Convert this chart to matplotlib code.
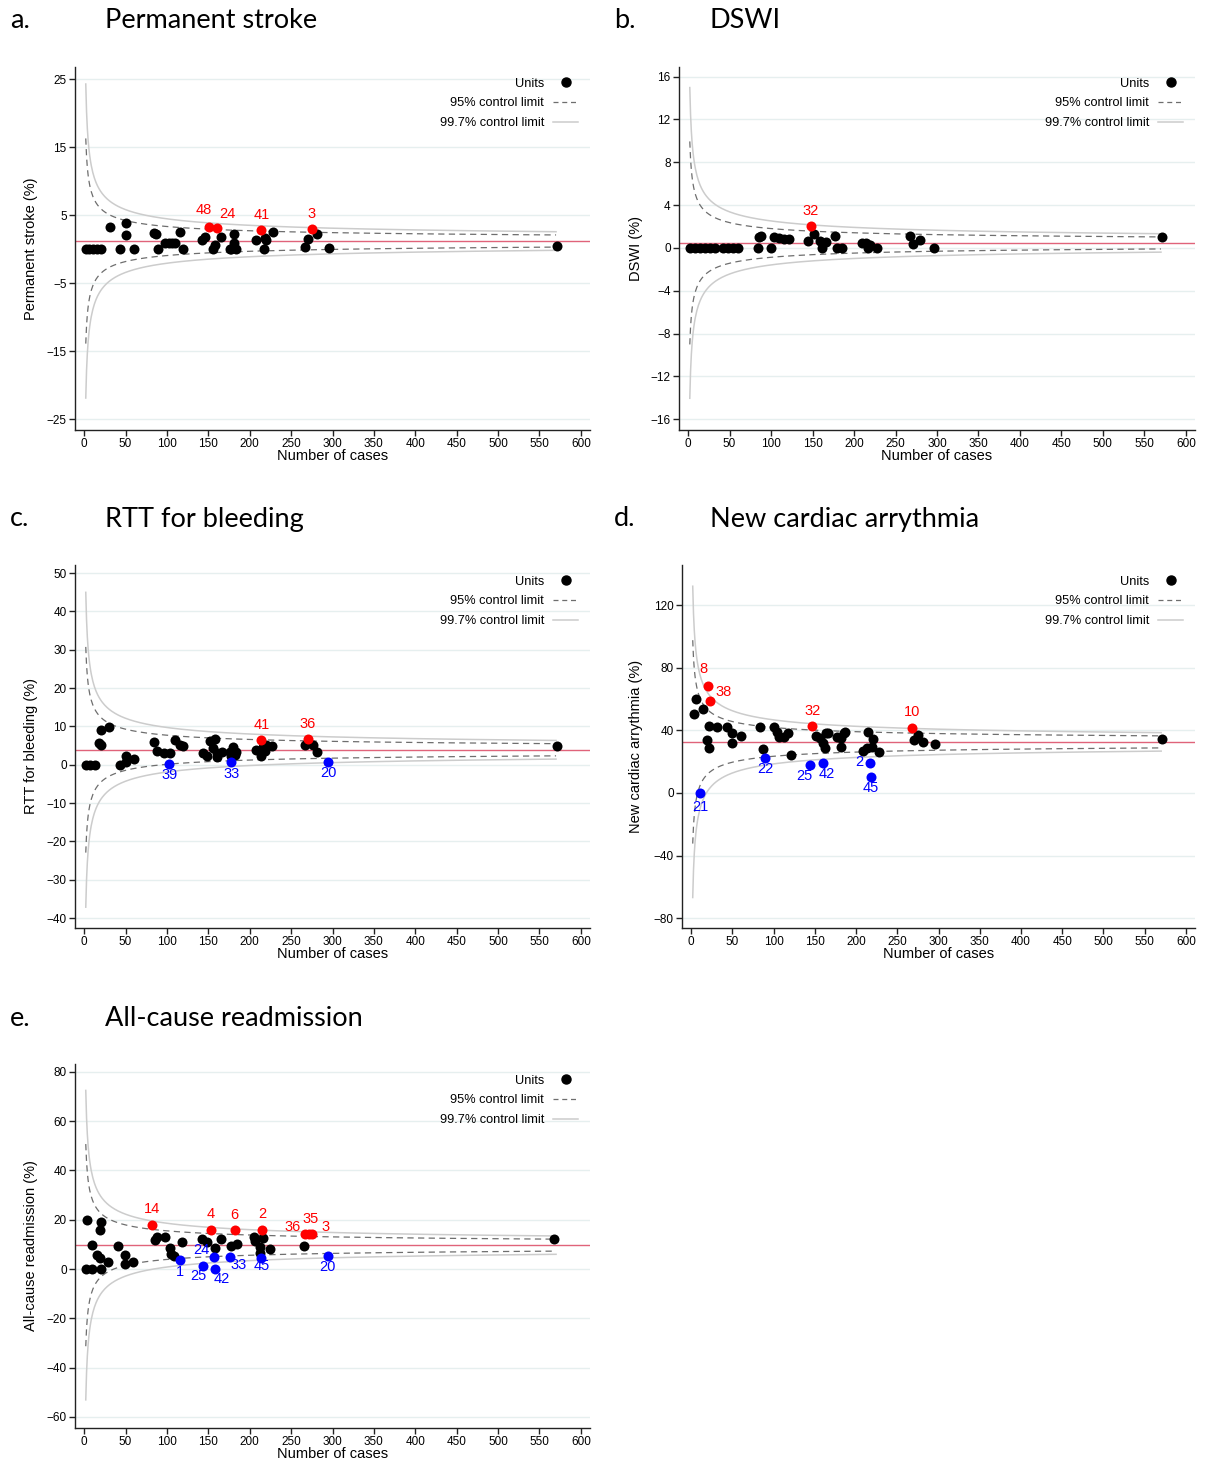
import matplotlib
matplotlib.use("Agg")
import matplotlib.pyplot as plt
from matplotlib.lines import Line2D
import numpy as np

plt.rcParams['font.family'] = ['Liberation Sans', 'DejaVu Sans']

# ---- data (n = number of cases, rate in %) ----
# a. Permanent stroke
a_target = 1.2
a_n = [2, 6, 11, 16, 21, 31, 50, 50, 43, 60, 84, 87, 89, 98, 102, 106, 110, 116, 120,
       142, 146, 165, 158, 156, 181, 181, 178, 184, 176, 208, 218, 220, 217, 228,
       281, 271, 267, 296, 571]
a_rate = [0, 0, 0, 0, 0, 3.2, 3.9, 2.1, 0, 0, 2.4, 2.3, 0, 0.9, 0.9, 0.9, 0.9, 2.5, 0,
          1.3, 1.8, 1.8, 0.6, 0, 2.2, 0.9, 0.1, 0, 0, 1.3, 1.6, 1.3, 0, 2.5,
          2.2, 1.5, 0.3, 0.2, 0.4]
a_hi_n = [151, 160, 214, 275]
a_hi_rate = [3.3, 3.1, 2.8, 2.9]
a_hi_lab = ['48', '24', '41', '3']

# b. DSWI
b_target = 0.47
b_n = [2, 8, 14, 20, 26, 32, 42, 48, 54, 60, 84, 100, 88, 86, 103, 109, 115, 121,
       144, 152, 159, 166, 161, 177, 179, 185, 209, 215, 219, 217, 228, 267, 271,
       280, 296, 571]
b_rate = [0, 0, 0, 0, 0, 0, 0, 0, 0, 0, 0, 0, 1.15, 1.0, 1.0, 0.9, 0.85, 0.8,
          0.65, 1.3, 0.65, 0.6, 0, 1.15, 0, 0, 0.5, 0.5, 0.3, 0, 0, 1.1, 0.35,
          0.7, 0, 1.0]
b_hi_n = [148]
b_hi_rate = [2.06]
b_hi_lab = ['32']

# c. RTT for bleeding
c_target = 3.9
c_n = [2, 7, 13, 20, 30, 18, 21, 43, 50, 60, 50, 84, 88, 96, 104, 110, 116, 120,
       144, 148, 152, 158, 156, 160, 166, 161, 176, 180, 184, 182, 178, 208, 216,
       220, 227, 214, 218, 267, 276, 281, 571]
c_rate = [0, 0, 0, 9.0, 9.9, 5.7, 5.1, 0, 2.2, 1.5, 0.6, 5.9, 3.7, 3.1, 3.1, 6.4,
          5.2, 4.8, 3.1, 2.4, 6.1, 6.8, 4.4, 3.1, 3.2, 1.9, 3.2, 4.6, 3.2, 2.6,
          2.2, 3.9, 4.6, 5.2, 5.0, 2.2, 3.5, 5.2, 5.2, 3.2, 5.0]
c_hi_n = [214, 270, 103, 178, 295]
c_hi_rate = [6.5, 6.7, 0.2, 0.6, 0.7]
c_hi_lab = ['41', '36', '39', '33', '20']

# d. New cardiac arrythmia
d_target = 32.6
d_n = [3, 6, 14, 22, 32, 19, 22, 44, 50, 61, 50, 84, 100, 104, 107, 113, 117, 87,
       121, 151, 156, 160, 162, 164, 166, 177, 182, 185, 187, 182, 215, 220, 219,
       213, 208, 228, 270, 275, 281, 296, 571]
d_rate = [50.3, 59.9, 53.7, 42.8, 42, 33.9, 28.5, 42, 38.1, 36.4, 32.1, 42, 42,
          39.2, 36, 36, 38.5, 27.9, 24.1, 36.4, 35, 31.8, 28.6, 38.1, 38.5, 36,
          35, 38.5, 39.2, 29.2, 39.2, 34.3, 29.6, 28.6, 26.8, 26.4, 33.9, 37.1,
          32.8, 31.1, 34.5]
d_hi_n = [20, 23, 147, 268, 11, 90, 144, 160, 217, 218]
d_hi_rate = [68.6, 59, 42.8, 41.7, 0, 22.6, 17.9, 19, 19, 10]
d_hi_lab = ['8', '38', '32', '10', '21', '22', '25', '42', '2', '45']

# e. All-cause readmission
e_target = 9.7
e_n = [4, 20, 19, 10, 16, 19, 29, 2, 10, 20, 41, 49, 49, 59, 88, 86, 98, 104, 105,
       109, 118, 142, 148, 158, 165, 178, 185, 205, 206, 216, 213, 213, 224, 266,
       568]
e_rate = [19.8, 18.9, 15.8, 9.7, 5.9, 4.6, 3.0, 0, 0, 0, 9.3, 5.7, 1.9, 3.0, 13.1,
          11.7, 13.1, 8.6, 6.3, 5.4, 10.8, 12.0, 11.0, 8.4, 12.0, 9.4, 10.1, 12.8,
          11.3, 12.4, 9.0, 6.7, 8.0, 9.4, 12.0]
e_hi_n = [82, 153, 182, 215, 267, 272, 275, 116, 143, 157, 158, 176, 214, 294]
e_hi_rate = [18.0, 16.0, 15.8, 16.0, 14.1, 14.1, 14.1, 3.5, 1.3, 4.8, 0, 5.0, 4.6, 5.3]
e_hi_lab = ['14', '4', '6', '2', '36', '35', '3', '1', '25', '24', '42', '33', '45', '20']

# label nudges (points) where the default above/below placement differs
label_offsets = {
    ('a', '48'): (-4, 12), ('a', '24'): (8, 10),
    ('d', '8'): (-3, 12), ('d', '38'): (10, 6), ('d', '21'): (0, -10),
    ('d', '25'): (-4, -8), ('d', '42'): (3, -8), ('d', '2'): (-8, 1),
    ('e', '36'): (-9, 5), ('e', '35'): (1, 11), ('e', '3'): (10, 5),
    ('e', '24'): (-9, 5), ('e', '25'): (-3, -7), ('e', '42'): (5, -7),
    ('e', '33'): (6, -6), ('e', '45'): (0, -6),
}

W, H = 1206, 1465
fig = plt.figure(figsize=(W / 100, H / 100), dpi=100)


def add_axes(left, right, top, bottom):
    return fig.add_axes([left / W, 1 - bottom / H, (right - left) / W, (bottom - top) / H])


def draw_panel(key, ax, n, rate, hi_n, hi_rate, hi_lab, target, ylim, yticks, ylabel, ylab_x):
    nn = np.linspace(2, 570, 600)
    sd = np.sqrt(target / 100 * (1 - target / 100) / nn) * 100
    ax.axhline(target, color='#e0637a', lw=1.0, zorder=2)
    for z, style, col, lw in [(3.0, '-', '#cccccc', 1.1), (1.96, (0, (5, 3.5)), '#6e6e6e', 0.9)]:
        ax.plot(nn, target + z * sd, ls=style, color=col, lw=lw, zorder=3)
        ax.plot(nn, target - z * sd, ls=style, color=col, lw=lw, zorder=3)

    ax.plot(n, rate, 'o', color='black', ms=7.2, mec='none', zorder=4)
    for x, y, lab in zip(hi_n, hi_rate, hi_lab):
        col = '#ff0000' if y > target else '#0000ff'
        ax.plot(x, y, 'o', color=col, ms=7.2, mec='none', zorder=5)
        dx, dy = label_offsets.get((key, lab), (0, 11) if y > target else (0, -8))
        ax.annotate(lab, (x, y), xytext=(dx, dy), textcoords='offset points',
                    ha='center', va='center', color=col, fontsize=10.5, zorder=6)

    ax.set_xlim(-11, 611)
    ax.set_ylim(*ylim)
    ax.set_xticks(np.arange(0, 601, 50))
    ax.set_yticks(yticks)
    ax.grid(axis='y', color='#e6efef', lw=1.0, zorder=0)
    ax.set_axisbelow(True)
    for s in ['top', 'right']:
        ax.spines[s].set_visible(False)
    for s in ['left', 'bottom']:
        ax.spines[s].set_color('#222222')
        ax.spines[s].set_linewidth(1.0)
    ax.tick_params(direction='out', length=4, width=1, color='#222222', labelsize=8.5, pad=2)
    ax.set_xlabel('Number of cases', fontsize=10.5)
    ax.xaxis.set_label_coords(0.5, -0.052)
    ax.set_ylabel(ylabel, fontsize=10.5)
    ax.yaxis.set_label_coords(ylab_x, 0.5)

    handles = [Line2D([], [], ls='none', marker='o', color='black', ms=6.5),
               Line2D([], [], ls=(0, (4, 3)), color='#6e6e6e', lw=0.9),
               Line2D([], [], ls='-', color='#cccccc', lw=1.1)]
    ax.legend(handles, ['Units', '95% control limit', '99.7% control limit'],
              loc='upper right', bbox_to_anchor=(0.995, 0.995), frameon=False,
              markerfirst=False, fontsize=9.2, handlelength=2.0, handletextpad=0.7,
              labelspacing=0.6, borderaxespad=0.3)


ax_a = add_axes(75, 590, 67, 430)
draw_panel('a', ax_a, a_n, a_rate, a_hi_n, a_hi_rate, a_hi_lab, a_target,
           (-26.6, 26.8), [-25, -15, -5, 5, 15, 25], 'Permanent stroke (%)', -0.072)
ax_b = add_axes(679, 1195, 67, 430)
draw_panel('b', ax_b, b_n, b_rate, b_hi_n, b_hi_rate, b_hi_lab, b_target,
           (-17.0, 16.9), np.arange(-16, 17, 4), 'DSWI (%)', -0.07)
ax_c = add_axes(75, 590, 565, 928)
draw_panel('c', ax_c, c_n, c_rate, c_hi_n, c_hi_rate, c_hi_lab, c_target,
           (-42.6, 52.1), np.arange(-40, 51, 10), 'RTT for bleeding (%)', -0.072)
ax_d = add_axes(682, 1195, 565, 928)
draw_panel('d', ax_d, d_n, d_rate, d_hi_n, d_hi_rate, d_hi_lab, d_target,
           (-86.3, 145.6), np.arange(-80, 121, 40), 'New cardiac arrythmia (%)', -0.076)
ax_e = add_axes(75, 590, 1064, 1428)
draw_panel('e', ax_e, e_n, e_rate, e_hi_n, e_hi_rate, e_hi_lab, e_target,
           (-64.5, 83.2), np.arange(-60, 81, 20), 'All-cause readmission (%)', -0.072)

# panel titles
titles = [('a.', 'Permanent stroke', 10, 105, 20), ('b.', 'DSWI', 614, 710, 20),
          ('c.', 'RTT for bleeding', 10, 105, 519), ('d.', 'New cardiac arrythmia', 614, 710, 519),
          ('e.', 'All-cause readmission', 10, 105, 1018)]
for letter, name, x1, x2, y in titles:
    fig.text(x1 / W, 1 - y / H, letter, fontsize=19.5, family=['Lato', 'DejaVu Sans'], va='center')
    fig.text(x2 / W, 1 - y / H, name, fontsize=19.5, family=['Lato', 'DejaVu Sans'], va='center')

fig.savefig('out.png', dpi=100)
